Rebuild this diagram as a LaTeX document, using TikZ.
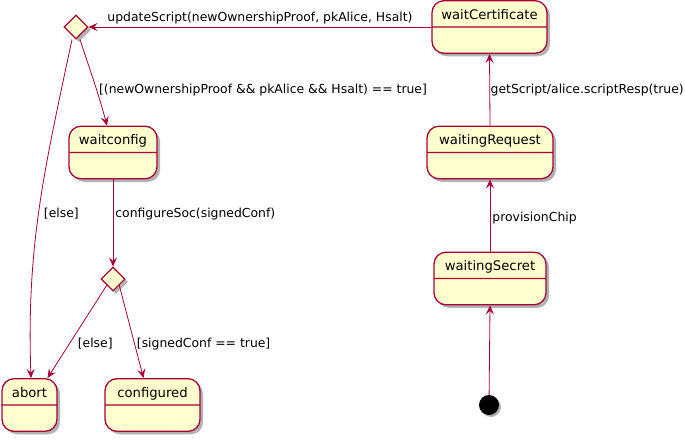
\documentclass[tikz,border=0pt]{standalone}
\usepackage{fontspec}
\setmainfont{DejaVu Sans}
\usetikzlibrary{arrows.meta, positioning, shapes.geometric, shapes.multipart, shadows}
\definecolor{umlred}{HTML}{A80036}
\definecolor{umlfill}{HTML}{FEFECE}

\begin{document}
\begin{tikzpicture}[x=1pt, y=1pt,
        state/.style={rectangle split, rectangle split parts=2, draw=umlred, fill=umlfill, line width=1.3pt,
          rounded corners=12pt, font=\fontsize{13.2}{15}\selectfont, text height=13pt, text depth=2pt,
          inner ysep=5pt, inner xsep=6pt, align=center,
          drop shadow={shadow xshift=3pt, shadow yshift=-3pt, fill=black, opacity=0.3}},
        choice/.style={diamond, aspect=1, draw=umlred, fill=umlfill, line width=1.1pt, minimum width=24pt,
          minimum height=24pt, inner sep=0pt,
          drop shadow={shadow xshift=3pt, shadow yshift=-3pt, fill=black, opacity=0.3}},
        startdot/.style={circle, fill=black, minimum size=20pt, inner sep=0pt,
          drop shadow={shadow xshift=2pt, shadow yshift=-2pt, fill=black, opacity=0.3}},
        arr/.style={-{Stealth[length=9pt, width=8pt, inset=3.5pt]}, umlred, line width=0.8pt},
        lbl/.style={font=\fontsize{12.4}{14}\selectfont, text=black, inner sep=2pt}
      ]
        \useasboundingbox (0,0) rectangle (685,-439);

        % right column
        \node[state, minimum width=115pt] (cert) at (489.5,-27) {waitCertificate \nodepart{two} \strut};
        \node[state, minimum width=126pt] (request) at (490,-152.5) {waitingRequest \nodepart{two} \strut};
        \node[state, minimum width=112pt] (secret) at (490,-278.5) {waitingSecret \nodepart{two} \strut};
        \node[startdot] (start) at (489,-405) {};

        % left part
        \node[choice] (check) at (76,-27) {};
        \node[state, minimum width=88pt] (config) at (113,-152.5) {waitconfig \nodepart{two} \strut};
        \node[choice] (soc) at (113,-279) {};
        \node[state, minimum width=55pt] (abort) at (29.5,-405) {abort \nodepart{two} \strut};
        \node[state, minimum width=95pt] (done) at (152.5,-405) {configured \nodepart{two} \strut};

        \draw[arr] (start) -- (secret.south);
        \draw[arr] (secret.north) -- node[lbl, right, pos=0.47] {provisionChip} (request.south);
        \draw[arr] (request.north) -- node[lbl, right, pos=0.5, inner xsep=0.5pt] {getScript/alice.scriptResp(true)} (cert.south);
        \draw[arr] (cert.west |- check) -- node[lbl, above, yshift=1pt] {updateScript(newOwnershipProof, pkAlice, Hsalt)} (check.east);

        \draw[arr] ([xshift=4pt]check.south) to[out=-72, in=105]
          node[lbl, right, pos=0.6] {[(newOwnershipProof \&\& pkAlice \&\& Hsalt) == true]} ([xshift=-6pt]config.north);
        \draw[arr] ([xshift=-4pt]check.south) to[out=-102, in=92]
          node[lbl, right, pos=0.52, xshift=3pt] {[else]} ([xshift=1.5pt]abort.north);
        \draw[arr] (config.south) -- node[lbl, right, pos=0.4] {configureSoc(signedConf)} (soc.north);
        \draw[arr] (soc.south west) -- node[lbl, right, pos=0.63, xshift=6pt] {[else]} ([xshift=18pt]abort.north);
        \draw[arr] (soc.south east) -- node[lbl, right, pos=0.63] {[signedConf == true]} ([xshift=-9pt]done.north);
      \end{tikzpicture}
\end{document}
